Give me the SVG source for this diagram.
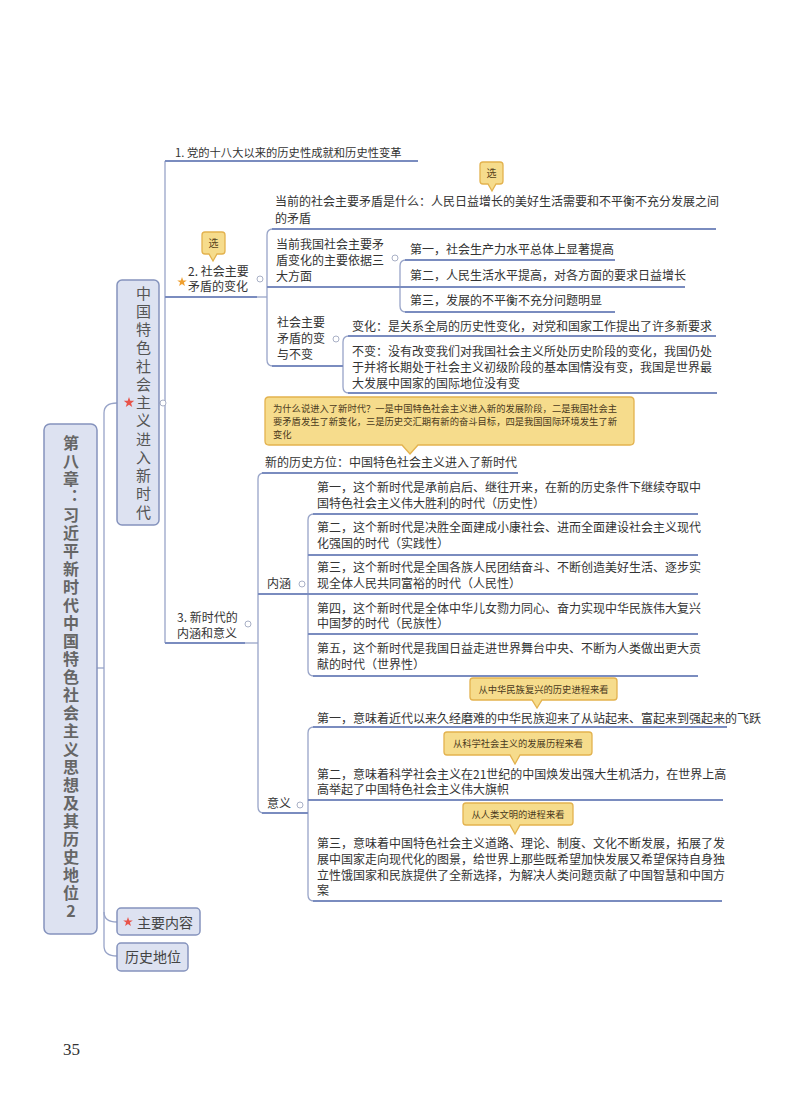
<svg xmlns="http://www.w3.org/2000/svg" width="800" height="1108" viewBox="0 0 800 1108">
<defs>
<style>
text { font-family: "Noto Sans CJK SC", "Noto Sans", sans-serif; }
.t { font-size: 12px; fill: #333; }
.cap { font-size: 9.3px; fill: #4a3a20; text-anchor: middle; }
.sel { font-size: 10px; fill: #5a4520; text-anchor: middle; }
.ul { stroke: #7a8cbf; stroke-width: 2; fill: none; }
.br { stroke: #98a4c8; stroke-width: 1.3; fill: none; }
.box { fill: #dde2f1; stroke: #8593bd; stroke-width: 1.5; }
.call { fill: #f6dc8c; stroke: #e3b24e; stroke-width: 1.3; }
.dot { fill: #fff; stroke: #a9b0c6; stroke-width: 1; }
.vt { font-size: 15px; fill: #555; writing-mode: vertical-rl; text-orientation: upright; letter-spacing: 3.25px; }
.rt { font-size: 16px; font-weight: bold; fill: #666; writing-mode: vertical-rl; text-orientation: upright; letter-spacing: 2px; }
.red { fill: #e8534a; }
.org { fill: #f0a030; }
</style>
<path id="star" d="M0,-1 L0.235,-0.324 L0.951,-0.309 L0.380,0.124 L0.588,0.809 L0,0.4 L-0.588,0.809 L-0.380,0.124 L-0.951,-0.309 L-0.235,-0.324 Z"/>
</defs>
<rect width="800" height="1108" fill="#ffffff"/>

<g id="connectors">
  <path class="br" d="M97,668 H104"/>
  <path class="br" d="M117,403 Q104,403 104,413 V946 Q104,956 117,956"/>
  <path class="br" d="M104,912 Q104,922 117,922"/>
  <path class="br" d="M159,403 H165"/>
  <path class="br" d="M165,161 V643"/>
  <path class="br" d="M257,297 H267"/>
  <path class="br" d="M273,229 Q267,229 267,235 V360 Q267,366 273,366"/>
  <path class="br" d="M406,260 Q400,260 400,266 V306 Q400,312 406,312"/>
  <path class="br" d="M349,336 Q343,336 343,342 V387 Q343,393 349,393"/>
  <path class="br" d="M264,473 Q258,473 258,479 V807 Q258,813 264,813"/>
  <path class="br" d="M245,643 H258"/>
  <path class="br" d="M314,514 Q308,514 308,520 V670 Q308,676 314,676"/>
  <path class="br" d="M314,727 Q308,727 308,733 V895 Q308,901 314,901"/>
</g>

<g id="root">
  <rect class="box" x="44" y="424" width="53" height="510" rx="6"/>
  <text class="rt" x="71" y="435">第八章<tspan style="font-family:'Noto Sans CJK TC',sans-serif;font-feature-settings:'vert' 0, 'vrt2' 0">：</tspan>习近平新时代中国特色社会主义思想及其历史地位2</text>
</g>

<g id="node-new-era">
  <rect class="box" x="117" y="280" width="42" height="245" rx="5"/>
  <text class="vt" x="143.5" y="285.5">中国特色社会主义进入新时代</text>
  <use href="#star" class="red" transform="translate(129,402.5) scale(5.5)"/>
  <circle class="dot" cx="163" cy="403" r="3"/>
</g>

<g id="node-main">
  <rect class="box" x="117" y="908" width="83" height="27" rx="4"/>
  <use href="#star" class="red" transform="translate(128,922) scale(5)"/>
  <text class="t" x="137" y="927.5" style="font-size:14px;fill:#444">主要内容</text>
</g>

<g id="node-status">
  <rect class="box" x="117" y="943" width="71" height="28" rx="4"/>
  <text class="t" x="125" y="962" style="font-size:14px;fill:#444">历史地位</text>
</g>

<g id="n1">
  <text class="t" x="175" y="157" style="font-size:11.3px">1. 党的十八大以来的历史性成就和历史性变革</text>
  <path class="ul" d="M165,161 H418"/>
</g>

<g id="n2">
  <path class="call" d="M202,235 Q202,232 205,232 H222 Q225,232 225,235 V251 Q225,254 222,254 H217 L213,261 L209,254 H205 Q202,254 202,251 Z"/>
  <text class="sel" x="213.5" y="247">选</text>
  <use href="#star" class="org" transform="translate(182,282) scale(5)"/>
  <text class="t" x="188" y="276">2. 社会主要</text>
  <text class="t" x="188" y="291">矛盾的变化</text>
  <path class="ul" d="M165,297 H257"/>
  <circle class="dot" cx="260" cy="279" r="3"/>
</g>

<g id="n2a">
  <path class="call" d="M480,165 Q480,162 483,162 H500 Q503,162 503,165 V181 Q503,184 500,184 H496 L492,191 L488,184 H483 Q480,184 480,181 Z"/>
  <text class="sel" x="491.5" y="177">选</text>
  <text class="t" x="275" y="206">当前的社会主要矛盾是什么：人民日益增长的美好生活需要和不平衡不充分发展之间</text>
  <text class="t" x="275" y="223">的矛盾</text>
  <path class="ul" d="M272,229 H716"/>
</g>

<g id="n2b">
  <text class="t" x="276" y="249">当前我国社会主要矛</text>
  <text class="t" x="276" y="265">盾变化的主要依据三</text>
  <text class="t" x="276" y="281">大方面</text>
  <path class="ul" d="M267,287 H400"/>
  <circle class="dot" cx="395" cy="258" r="3"/>
</g>
<g id="n2b1">
  <text class="t" x="410" y="254">第一，社会生产力水平总体上显著提高</text>
  <path class="ul" d="M405,260 H615"/>
</g>
<g id="n2b2">
  <text class="t" x="410" y="280">第二，人民生活水平提高，对各方面的要求日益增长</text>
  <path class="ul" d="M400,287 H685"/>
</g>
<g id="n2b3">
  <text class="t" x="410" y="305">第三，发展的不平衡不充分问题明显</text>
  <path class="ul" d="M405,312 H615"/>
</g>

<g id="n2c">
  <text class="t" x="277" y="327">社会主要</text>
  <text class="t" x="277" y="343">矛盾的变</text>
  <text class="t" x="277" y="359">与不变</text>
  <path class="ul" d="M272,366 H343"/>
  <circle class="dot" cx="336" cy="339" r="3"/>
</g>
<g id="n2c1">
  <text class="t" x="352" y="331">变化：是关系全局的历史性变化，对党和国家工作提出了许多新要求</text>
  <path class="ul" d="M348,336 H716"/>
</g>
<g id="n2c2">
  <text class="t" x="352" y="356">不变：没有改变我们对我国社会主义所处历史阶段的变化，我国仍处</text>
  <text class="t" x="352" y="372">于并将长期处于社会主义初级阶段的基本国情没有变，我国是世界最</text>
  <text class="t" x="352" y="388">大发展中国家的国际地位没有变</text>
  <path class="ul" d="M348,393 H717"/>
</g>

<g id="n3">
  <path class="call" d="M265,401 Q265,397 269,397 H630 Q634,397 634,401 V441 Q634,445 630,445 H418 L410,454 L402,445 H269 Q265,445 265,441 Z"/>
  <text class="cap" style="text-anchor:start" x="273" y="412">为什么说进入了新时代？一是中国特色社会主义进入新的发展阶段，二是我国社会主</text>
  <text class="cap" style="text-anchor:start" x="273" y="425">要矛盾发生了新变化，三是历史交汇期有新的奋斗目标，四是我国国际环境发生了新</text>
  <text class="cap" style="text-anchor:start" x="273" y="438">变化</text>
  <text class="t" x="177" y="622">3. 新时代的</text>
  <text class="t" x="177" y="638">内涵和意义</text>
  <path class="ul" d="M165,643 H245"/>
  <circle class="dot" cx="248" cy="624" r="3"/>
</g>

<g id="n3a">
  <text class="t" x="265" y="467">新的历史方位：中国特色社会主义进入了新时代</text>
  <path class="ul" d="M262,473 H518"/>
</g>

<g id="n3b">
  <text class="t" x="267" y="588">内涵</text>
  <path class="ul" d="M258,594 H308"/>
  <circle class="dot" cx="302" cy="584" r="3"/>
</g>
<g id="n3b1">
  <text class="t" x="317" y="492">第一，这个新时代是承前启后、继往开来，在新的历史条件下继续夺取中</text>
  <text class="t" x="317" y="508">国特色社会主义伟大胜利的时代（历史性）</text>
  <path class="ul" d="M313,514 H698"/>
</g>
<g id="n3b2">
  <text class="t" x="317" y="532">第二，这个新时代是决胜全面建成小康社会、进而全面建设社会主义现代</text>
  <text class="t" x="317" y="548">化强国的时代（实践性）</text>
  <path class="ul" d="M308,555 H698"/>
</g>
<g id="n3b3">
  <text class="t" x="317" y="572">第三，这个新时代是全国各族人民团结奋斗、不断创造美好生活、逐步实</text>
  <text class="t" x="317" y="588">现全体人民共同富裕的时代（人民性）</text>
  <path class="ul" d="M308,594 H698"/>
</g>
<g id="n3b4">
  <text class="t" x="317" y="613">第四，这个新时代是全体中华儿女勠力同心、奋力实现中华民族伟大复兴</text>
  <text class="t" x="317" y="628">中国梦的时代（民族性）</text>
  <path class="ul" d="M308,634 H698"/>
</g>
<g id="n3b5">
  <text class="t" x="317" y="653">第五，这个新时代是我国日益走进世界舞台中央、不断为人类做出更大贡</text>
  <text class="t" x="317" y="669">献的时代（世界性）</text>
  <path class="ul" d="M313,676 H698"/>
</g>

<g id="n3c">
  <text class="t" x="267" y="808">意义</text>
  <path class="ul" d="M262,813 H308"/>
  <circle class="dot" cx="300" cy="805" r="3"/>
</g>
<g id="n3c1">
  <path class="call" d="M470,681 Q470,678 473,678 H614 Q617,678 617,681 V697 Q617,700 614,700 H542 L537,708 L532,700 H473 Q470,700 470,697 Z"/>
  <text class="cap" x="543.5" y="693">从中华民族复兴的历史进程来看</text>
  <text class="t" x="317" y="723">第一，意味着近代以来久经磨难的中华民族迎来了从站起来、富起来到强起来的飞跃</text>
  <path class="ul" d="M313,727 H727"/>
</g>
<g id="n3c2">
  <path class="call" d="M444,735 Q444,732 447,732 H589 Q592,732 592,735 V752 Q592,755 589,755 H520 L515,764 L510,755 H447 Q444,755 444,752 Z"/>
  <text class="cap" x="518" y="747">从科学社会主义的发展历程来看</text>
  <text class="t" x="317" y="779">第二，意味着科学社会主义在21世纪的中国焕发出强大生机活力，在世界上高</text>
  <text class="t" x="317" y="794">高举起了中国特色社会主义伟大旗帜</text>
  <path class="ul" d="M308,800 H723"/>
</g>
<g id="n3c3">
  <path class="call" d="M463,806 Q463,803 466,803 H570 Q573,803 573,806 V822 Q573,825 570,825 H520 L515,834 L510,825 H466 Q463,825 463,822 Z"/>
  <text class="cap" x="518" y="818">从人类文明的进程来看</text>
  <text class="t" x="317" y="848">第三，意味着中国特色社会主义道路、理论、制度、文化不断发展，拓展了发</text>
  <text class="t" x="317" y="864">展中国家走向现代化的图景，给世界上那些既希望加快发展又希望保持自身独</text>
  <text class="t" x="317" y="880">立性饿国家和民族提供了全新选择，为解决人类问题贡献了中国智慧和中国方</text>
  <text class="t" x="317" y="895">案</text>
  <path class="ul" d="M313,901 H722"/>
</g>

<text x="63" y="1055" style="font-family:'Liberation Serif',serif;font-size:17px;fill:#333">35</text>
</svg>
